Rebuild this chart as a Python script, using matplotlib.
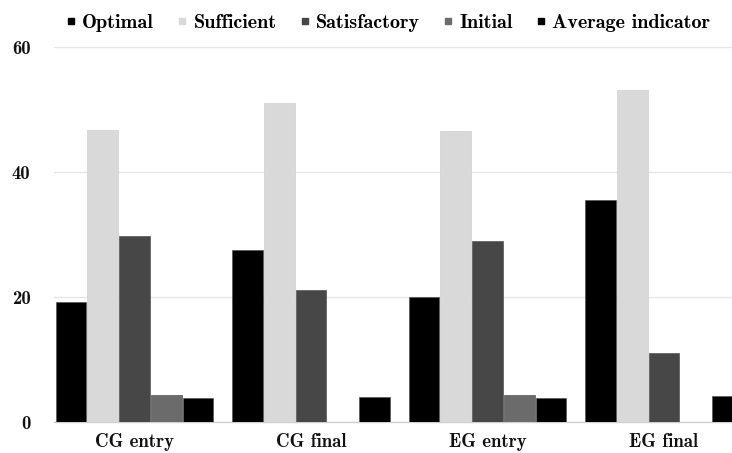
import matplotlib

matplotlib.use("Agg")

import matplotlib.pyplot as plt
import numpy as np
from matplotlib.lines import Line2D

plt.rcParams["font.family"] = ["cmb10", "DejaVu Serif"]
plt.rcParams["axes.unicode_minus"] = False

groups = ["CG entry", "CG final", "EG entry", "EG final"]
levels = ["Optimal", "Sufficient", "Satisfactory", "Initial", "Average indicator"]
optimal = [19.2, 27.6, 20.0, 35.5]
sufficient = [46.7, 51.0, 46.6, 53.2]
satisfactory = [29.8, 21.2, 28.9, 11.1]
initial = [4.3, 0.0, 4.4, 0.0]
average = [3.8, 4.0, 3.8, 4.2]
y_ticks = [0, 20, 40, 60]

colours = ["#000000", "#d9d9d9", "#474747", "#6b6b6b", "#000000"]
series = [optimal, sufficient, satisfactory, initial, average]

W, H = 732, 453
fig = plt.figure(figsize=(W / 100, H / 100), dpi=100)
ax = fig.add_axes([54 / W, 31 / H, (W - 54) / W, (422 - 47) / H])

x = np.arange(len(groups))
bar_w = 0.18
for k, (vals, col) in enumerate(zip(series, colours)):
    offs = (k - 2) * bar_w
    edge = "#cfcfcf" if col == "#d9d9d9" else "#555555"
    ax.bar(x + offs, vals, width=bar_w * 0.97, color=col, edgecolor=edge,
           linewidth=0.5, zorder=3)

ax.set_xlim(-0.456, 3.385)
ax.set_ylim(0, 60)
ax.set_yticks(y_ticks)
ax.set_xticks(x)
ax.set_xticklabels(groups)
ax.tick_params(axis="both", length=0, labelsize=13.5, colors="#111111")
ax.tick_params(axis="y", pad=17)
ax.tick_params(axis="x", pad=8)
ax.grid(axis="y", color="#e6e6e6", linewidth=1.0, zorder=0)
for side in ["top", "right", "left"]:
    ax.spines[side].set_visible(False)
ax.spines["bottom"].set_color("#d0d0d0")
ax.spines["bottom"].set_linewidth(1.0)

handles = [Line2D([], [], marker="s", linestyle="none", markersize=4.5,
                  markerfacecolor=c, markeredgecolor=c) for c in colours]
fig.legend(handles, levels, loc="center", bbox_to_anchor=(388 / W, 1 - 23 / H),
           ncol=5, frameon=False, fontsize=14.5, handlelength=0.5,
           handletextpad=0.3, columnspacing=1.15, borderaxespad=0)

fig.savefig("out.png", dpi=100, facecolor="white")
